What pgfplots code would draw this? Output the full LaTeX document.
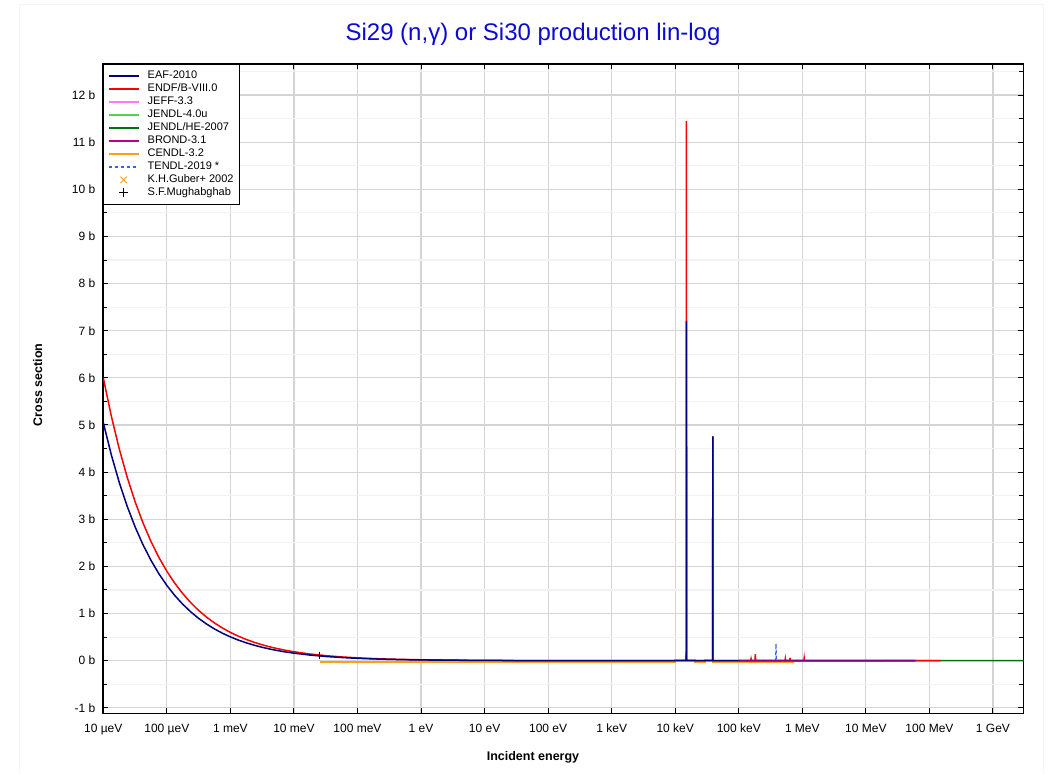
\documentclass[border=0pt]{standalone}
\usepackage{fontspec}
\setmainfont{Liberation Sans}
\usepackage{pgfplots}
\pgfplotsset{compat=1.18}
\definecolor{eafc}{RGB}{0,0,128}
\definecolor{endfc}{RGB}{250,0,0}
\definecolor{jeffc}{RGB}{255,120,255}
\definecolor{jendlc}{RGB}{80,210,80}
\definecolor{jendlhec}{RGB}{0,115,20}
\definecolor{brondc}{RGB}{185,0,140}
\definecolor{cendlc}{RGB}{255,160,20}
\definecolor{tendlc}{RGB}{50,100,230}
\definecolor{titlec}{RGB}{10,10,215}
\begin{document}
\begin{tikzpicture}
\useasboundingbox (0pt,0pt) rectangle (1049pt,774pt);
\draw[gray!8, line width=1pt] (19pt,0pt) -- (19pt,769pt) -- (1043pt,769pt) -- (1043pt,0pt);
\begin{axis}[
  at={(103.3pt,60.7pt)}, anchor=south west,
  scale only axis, width=920pt, height=649.3pt,
  xmode=log, xmin=1e-5, xmax=3e9,
  ymin=-1.116, ymax=12.658,
  xtick={1e-5,1e-4,1e-3,0.01,0.1,1,10,100,1000,1e4,1e5,1e6,1e7,1e8,1e9},
  xticklabels={10 µeV,100 µeV,1 meV,10 meV,100 meV,1 eV,10 eV,100 eV,1 keV,10 keV,100 keV,1 MeV,10 MeV,100 MeV,1 GeV},
  ytick={-1,0,1,2,3,4,5,6,7,8,9,10,11,12},
  yticklabels={-1 b,0 b,1 b,2 b,3 b,4 b,5 b,6 b,7 b,8 b,9 b,10 b,11 b,12 b},
  minor ytick={-0.5,0.5,1.5,2.5,3.5,4.5,5.5,6.5,7.5,8.5,9.5,10.5,11.5,12.5},
  minor x tick style={draw=none},
  xmajorgrids, ymajorgrids, yminorgrids, xminorgrids=false,
  major grid style={draw=black!17, line width=1.2pt},
  minor grid style={draw=black!5, line width=1.2pt},
  tick align=inside,
  major tick length=5pt, minor tick length=4pt,
  tick style={black, line width=1pt},
  axis line style={black, line width=1.6pt},
  tick label style={font=\fontsize{12}{14}\selectfont},
  xticklabel style={yshift=-7pt},
  yticklabel style={xshift=-4.5pt},
  legend cell align=left,
  legend image code/.code={\draw[#1, line width=2pt] (0pt,0pt) -- (30pt,0pt); \path (36pt,0pt);},
  legend style={at={(0,1)}, anchor=north west, draw=black, line width=0.8pt,
    font=\fontsize{11}{12}\selectfont, inner xsep=4pt, inner ysep=5pt, row sep=0pt,
    nodes={text height=7.8pt, text depth=2.4pt, inner ysep=1.4pt}},
]
\addlegendimage{eafc, line width=2pt}
\addlegendentry{EAF-2010}
\addlegendimage{endfc, line width=2pt}
\addlegendentry{ENDF/B-VIII.0}
\addlegendimage{jeffc, line width=2pt}
\addlegendentry{JEFF-3.3}
\addlegendimage{jendlc, line width=2pt}
\addlegendentry{JENDL-4.0u}
\addlegendimage{jendlhec, line width=2pt}
\addlegendentry{JENDL/HE-2007}
\addlegendimage{brondc, line width=2pt}
\addlegendentry{BROND-3.1}
\addlegendimage{cendlc, line width=2pt}
\addlegendentry{CENDL-3.2}
\addlegendimage{tendlc, dashed, line width=2pt}
\addlegendentry{TENDL-2019 *}
\addlegendimage{legend image code/.code={\draw[cendlc, line width=0.9pt] plot[mark=x, mark size=4.5pt, only marks] coordinates {(15pt,0pt)}; \path (36pt,0pt);}}
\addlegendentry{K.H.Guber+ 2002}
\addlegendimage{legend image code/.code={\draw[black, line width=0.9pt] plot[mark=+, mark size=4.5pt, only marks] coordinates {(15pt,0pt)}; \path (36pt,0pt);}}
\addlegendentry{S.F.Mughabghab}

% JENDL/HE-2007
\addplot[jendlhec, line width=1.5pt, forget plot] coordinates {(2e7,0.0005) (1e8,0.0004) (1e9,0.0003) (3e9,0.0003)};
% JENDL-4.0u
\addplot[jendlc, line width=1.5pt, forget plot] coordinates {(1e5,0.001) (1e6,0.001) (2e7,0.0005)};
% JEFF-3.3
\addplot[jeffc, line width=1.5pt, forget plot] coordinates {(1e5,0.001) (1e6,0.001) (2e7,0.0005)};
% CENDL-3.2
\addplot[cendlc, line width=1.8pt, forget plot] coordinates {
(0.0253,-0.035) (1e4,-0.035) (1e4,0.02) (2.05e4,0.02) (2.05e4,-0.035) (2.94e4,-0.035)
(2.94e4,0.02) (3.9e4,0.02) (3.9e4,-0.035) (7.1e5,-0.035) (7.1e5,0.0) (2e7,0.0)};
% TENDL-2019
\addplot[tendlc, dashed, line width=1.2pt, forget plot] coordinates {
(1e5,0.002) (3.8e5,0.002) (3.85e5,0.36) (3.9e5,0.002) (1e6,0.002)};
% ENDF/B-VIII.0
\addplot[endfc, line width=1.5pt, forget plot] coordinates {
(1e-5,6.000) (1.3335e-5,5.196) (1.7783e-5,4.499) (2.3714e-5,3.896) (3.1623e-5,3.374)
(4.2170e-5,2.922) (5.6234e-5,2.530) (7.4989e-5,2.191) (1e-4,1.897) (1.3335e-4,1.643)
(1.7783e-4,1.423) (2.3714e-4,1.232) (3.1623e-4,1.067) (4.2170e-4,0.924) (5.6234e-4,0.800)
(7.4989e-4,0.693) (1e-3,0.600) (1.3335e-3,0.520) (1.7783e-3,0.450) (2.3714e-3,0.390)
(3.1623e-3,0.337) (4.2170e-3,0.292) (5.6234e-3,0.253) (7.4989e-3,0.219) (1e-2,0.190)
(1.7783e-2,0.142) (3.1623e-2,0.1067) (5.6234e-2,0.080) (0.1,0.060) (0.17783,0.045)
(0.31623,0.0337) (0.56234,0.0253) (1,0.0190) (10,0.0060) (100,0.0019) (1000,0.0006)
(1e4,0.0002) (1.49e4,0.0005) (1.5e4,11.45) (1.51e4,0.0005) (3.88e4,0.001) (3.9e4,4.76)
(3.92e4,0.001) (1.54e5,0.002) (1.56e5,0.04) (1.58e5,0.002) (1.8e5,0.002) (1.82e5,0.14)
(1.84e5,0.002) (5.35e5,0.002) (5.4e5,0.04) (5.45e5,0.002) (6.35e5,0.002) (6.4e5,0.06)
(6.45e5,0.002) (1.06e6,0.002) (1.07e6,0.05) (1.08e6,0.002) (6e7,0.0006) (1.5e8,0.0005)};
% EAF-2010
\addplot[eafc, line width=1.5pt, forget plot] coordinates {
(1e-5,5.050) (1.3335e-5,4.373) (1.7783e-5,3.787) (2.3714e-5,3.279) (3.1623e-5,2.840)
(4.2170e-5,2.459) (5.6234e-5,2.130) (7.4989e-5,1.844) (1e-4,1.597) (1.3335e-4,1.383)
(1.7783e-4,1.198) (2.3714e-4,1.037) (3.1623e-4,0.898) (4.2170e-4,0.778) (5.6234e-4,0.673)
(7.4989e-4,0.583) (1e-3,0.505) (1.3335e-3,0.437) (1.7783e-3,0.379) (2.3714e-3,0.328)
(3.1623e-3,0.284) (4.2170e-3,0.246) (5.6234e-3,0.213) (7.4989e-3,0.184) (1e-2,0.160)
(1.7783e-2,0.120) (3.1623e-2,0.0898) (5.6234e-2,0.0673) (0.1,0.0505) (0.17783,0.0379)
(0.31623,0.0284) (0.56234,0.0213) (1,0.0160) (10,0.0051) (100,0.0016) (1000,0.0005)
(1e4,0.0002) (1.49e4,0.0005) (1.5e4,7.20) (1.51e4,0.0005) (3.88e4,0.001) (3.9e4,4.76)
(3.92e4,0.001) (1e5,0.001) (6e7,0.0005)};
% BROND-3.1
\addplot[brondc, line width=1.5pt, opacity=0.7, forget plot] coordinates {(1e5,0.001) (1e6,0.001) (6e7,0.0005)};
% S.F.Mughabghab
\addplot[black, only marks, mark=+, mark size=3.5pt, line width=0.8pt, forget plot] coordinates {(0.0253,0.12)};
\end{axis}
\node[text=titlec, font=\fontsize{24}{28}\selectfont] at (533pt,740pt) {Si29 (n,γ) or Si30 production lin-log};
\node[font=\fontsize{12.5}{14}\selectfont\bfseries] at (533pt,17pt) {Incident energy};
\node[font=\fontsize{12.5}{14}\selectfont\bfseries, rotate=90] at (37.7pt,389pt) {Cross section};
\end{tikzpicture}
\end{document}
